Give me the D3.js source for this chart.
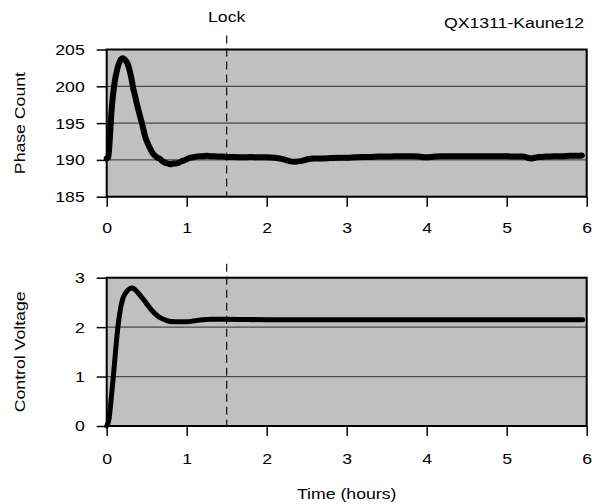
<!DOCTYPE html>
<html><head><meta charset="utf-8">
<script src="https://cdn.jsdelivr.net/npm/d3@7"></script>
<style>
html,body{margin:0;padding:0;background:#fff;}
svg{display:block;font-family:"Liberation Sans",Arial,sans-serif;}
</style></head>
<body><svg id="c" width="592" height="504"></svg>
<script>
// ---- data ----
const xTicks = [0,1,2,3,4,5,6];
const phaseTicks = [185,190,195,200,205];
const voltTicks = [0,1,2,3];
const lockTime = 1.5;

const phaseT = [0,0.02,0.04,0.06,0.08,0.10,0.125,0.146,0.17,0.195,0.22,0.25,0.27,0.29,0.31,0.33,0.355,0.375,0.41,0.44,0.46,0.48,0.51,0.54,0.57,0.6,0.635,0.67,0.7,0.735,0.77,0.8,0.83,0.86,0.9,0.93,0.96,1.0,1.05,1.1,1.15,1.2,1.25,1.3,1.35,1.4,1.45,
1.5,1.6,1.7,1.8,1.9,2.0,2.1,2.2,2.25,2.3,2.35,2.4,2.45,2.5,2.55,2.6,2.7,2.8,2.9,3.0,3.1,3.2,3.3,3.4,3.5,3.6,3.7,3.8,3.9,4.0,4.1,4.2,4.3,4.4,4.5,4.6,4.7,4.8,4.9,5.0,5.1,5.2,5.25,5.3,5.35,5.4,5.5,5.6,5.7,5.8,5.9,5.94];
const phaseV = [190.2,190.4,193.0,196.6,198.9,200.6,202.0,202.9,203.5,203.8,203.7,203.3,202.8,202.0,201.0,199.8,198.7,197.7,196.2,195.0,194.1,193.2,192.3,191.6,191.0,190.6,190.3,190.1,189.8,189.6,189.5,189.4,189.5,189.5,189.6,189.8,189.9,190.1,190.3,190.4,190.5,190.5,190.55,190.5,190.5,190.45,190.45,
190.4,190.4,190.35,190.4,190.35,190.35,190.3,190.1,189.95,189.8,189.75,189.8,189.9,190.05,190.15,190.2,190.2,190.25,190.3,190.3,190.35,190.4,190.4,190.45,190.45,190.5,190.5,190.5,190.45,190.35,190.45,190.5,190.5,190.5,190.5,190.5,190.5,190.5,190.5,190.5,190.45,190.45,190.35,190.2,190.3,190.4,190.45,190.5,190.5,190.55,190.55,190.6];

const voltT = [0,0.03,0.05,0.08,0.11,0.14,0.17,0.2,0.24,0.28,0.32,0.36,0.41,0.46,0.52,0.58,0.64,0.71,0.78,0.85,0.93,1.0,1.1,1.2,1.3,1.5,2.0,3.0,4.0,5.0,5.95];
const voltV = [0,0.15,0.45,0.95,1.5,2.0,2.35,2.57,2.7,2.77,2.79,2.75,2.66,2.56,2.43,2.31,2.22,2.16,2.12,2.11,2.11,2.11,2.13,2.15,2.16,2.16,2.15,2.15,2.15,2.15,2.15];

// ---- layout ----
const svg = d3.select("#c");
const FS = 15.5, SX = 1.14;
const L = 106.7, R = 586.7;
const x = d3.scaleLinear().domain([0,6]).range([L,R]);

function stretch(sel){
  sel.each(function(){
    const t = d3.select(this);
    const ax = +(t.attr("x")||0);
    t.attr("transform", `translate(${ax},0) scale(${SX},1) translate(${-ax},0)`);
  });
}

function panel(top, bottom, yDomain, yTicks, T, V, title, lw, labelPad){
  const y = d3.scaleLinear().domain(yDomain).range([bottom, top]);
  const g = svg.append("g");
  g.append("rect").attr("x",L).attr("y",top).attr("width",R-L).attr("height",bottom-top).attr("fill","#c0c0c0");
  g.selectAll("line.grid").data(yTicks).join("line").attr("class","grid")
    .attr("x1",L).attr("x2",R).attr("y1",d=>y(d)).attr("y2",d=>y(d))
    .attr("stroke","#4a4a4a").attr("stroke-width",1.2);
  g.append("line").attr("x1",x(lockTime)).attr("x2",x(lockTime)).attr("y1",top-14).attr("y2",bottom)
    .attr("stroke","#000").attr("stroke-width",1.1).attr("stroke-dasharray","8,5");
  const line = d3.line().x((d,i)=>x(T[i])).y(d=>y(d)).curve(d3.curveMonotoneX);
  g.append("path").datum(V).attr("d",line).attr("fill","none").attr("stroke","#000")
    .attr("stroke-width",lw).attr("stroke-linejoin","round").attr("stroke-linecap","round");
  g.append("rect").attr("x",L).attr("y",top).attr("width",R-L).attr("height",bottom-top)
    .attr("fill","none").attr("stroke","#000").attr("stroke-width",2);
  const ya = g.append("g").attr("transform",`translate(${L},0)`)
    .call(d3.axisLeft(y).tickValues(yTicks).tickSize(10).tickPadding(12).tickFormat(d3.format("d")));
  const xa = g.append("g").attr("transform",`translate(0,${bottom})`)
    .call(d3.axisBottom(x).tickValues(xTicks).tickSize(10).tickPadding(labelPad).tickFormat(d3.format("d")));
  [ya,xa].forEach(a=>{
    a.select(".domain").remove();
    a.selectAll(".tick line").attr("stroke","#000").attr("stroke-width",1.5);
    a.selectAll("text").attr("font-size",FS).attr("fill","#000").attr("font-family","Liberation Sans, Arial, sans-serif").call(stretch);
  });
  g.append("text").attr("transform",`translate(25,${(top+bottom)/2}) rotate(-90) scale(${SX},1)`)
    .attr("text-anchor","middle").attr("font-size",FS).text(title);
  return y;
}

panel(49.5, 196.7, [185,205], phaseTicks, phaseT, phaseV, "Phase Count", 6, 15.5);
panel(277.7, 426, [0,3], voltTicks, voltT, voltV, "Control Voltage", 5, 17);

svg.append("text").attr("x",x(lockTime)).attr("y",22.5).attr("text-anchor","middle").attr("font-size",FS).text("Lock").call(stretch);
svg.append("text").attr("x",584).attr("y",28).attr("text-anchor","end").attr("font-size",FS).text("QX1311-Kaune12").call(stretch);
svg.append("text").attr("x",(L+R)/2).attr("y",499).attr("text-anchor","middle").attr("font-size",FS).text("Time (hours)").call(stretch);
</script></body></html>
